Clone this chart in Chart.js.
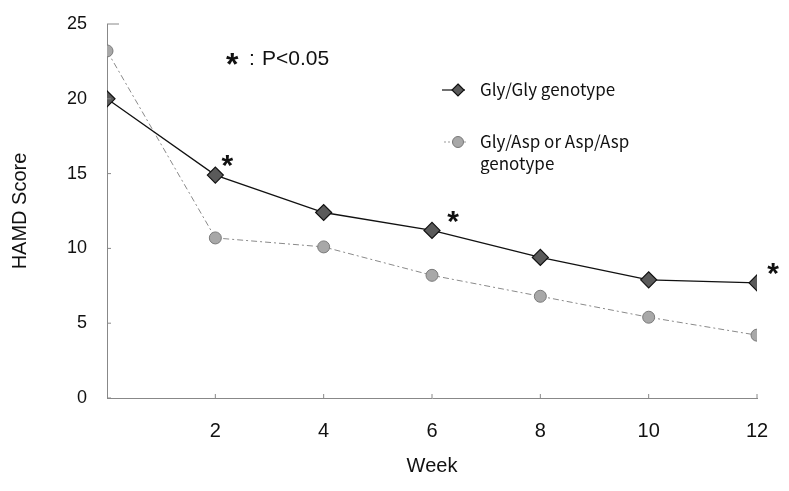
<!DOCTYPE html>
<html>
<head>
<meta charset="utf-8">
<script src="https://cdn.jsdelivr.net/npm/chart.js@4"></script>
<style>
  html, body { margin: 0; padding: 0; background: #fff; }
  #wrap { width: 789px; height: 491px; }
</style>
</head>
<body>
<div id="wrap"><canvas id="graficoHamd" width="789" height="491"></canvas></div>
<script>
// weeks and HAMD scores
var semanas = [0, 2, 4, 6, 8, 10, 12];
var glyGly = [20.0, 14.9, 12.4, 11.2, 9.4, 7.9, 7.7];
var glyAsp = [23.2, 10.7, 10.1, 8.2, 6.8, 5.4, 4.2];
var yTicks = [0, 5, 10, 15, 20, 25];
var xTicks = [2, 4, 6, 8, 10, 12];
// weeks where Gly/Gly differs significantly (asterisks)
var significativas = [2, 6, 12];
var nomesSeries = ['Gly/Gly genotype', 'Gly/Asp or Asp/Asp', 'genotype'];

function pontos(vals) {
    return semanas.map(function(s, i) { return { x: s, y: vals[i] }; });
}

function desenhaLosango(ctx, x, y, r) {
    ctx.beginPath();
    ctx.moveTo(x, y - r);
    ctx.lineTo(x + r, y);
    ctx.lineTo(x, y + r);
    ctx.lineTo(x - r, y);
    ctx.closePath();
    ctx.fillStyle = '#5a5a5a';
    ctx.fill();
    ctx.lineWidth = 1.2;
    ctx.strokeStyle = '#111';
    ctx.stroke();
}

// legend, p-value note, asterisks and small inner ticks
var extras = {
    id: 'extras',
    afterDatasetsDraw: function(chart) {
        var ctx = chart.ctx;
        var xs = chart.scales.x, ys = chart.scales.y;
        ctx.save();

        // inner tick marks
        ctx.strokeStyle = '#888';
        ctx.lineWidth = 1;
        yTicks.forEach(function(v) {
            var py = ys.getPixelForValue(v);
            ctx.beginPath();
            ctx.moveTo(xs.left, py);
            ctx.lineTo(xs.left + (v === 25 ? 12 : 4), py);
            ctx.stroke();
        });
        xTicks.forEach(function(v) {
            var px = xs.getPixelForValue(v);
            ctx.beginPath();
            ctx.moveTo(px, ys.bottom);
            ctx.lineTo(px, ys.bottom - 4);
            ctx.stroke();
        });

        // asterisks
        ctx.fillStyle = '#111';
        ctx.font = 'bold 30px "Liberation Sans", Arial, sans-serif';
        ctx.textAlign = 'center';
        ctx.textBaseline = 'middle';
        var desloc = { 2: 12, 6: 21, 12: 16 };
        significativas.forEach(function(s) {
            var i = semanas.indexOf(s);
            var px = xs.getPixelForValue(s) + desloc[s];
            var py = ys.getPixelForValue(glyGly[i]) - 8;
            ctx.fillText('*', px, py);
        });

        // p-value note
        ctx.textAlign = 'left';
        ctx.font = 'bold 32px "Liberation Sans", Arial, sans-serif';
        ctx.fillText('*', 226, 66);
        ctx.font = '21px "Liberation Sans", Arial, sans-serif';
        ctx.fillText(':', 249, 59);
        ctx.fillText('P<0.05', 262, 59);

        // legend
        ctx.strokeStyle = '#111';
        ctx.lineWidth = 1.2;
        ctx.beginPath();
        ctx.moveTo(442, 90);
        ctx.lineTo(465, 90);
        ctx.stroke();
        desenhaLosango(ctx, 458, 90, 6);

        ctx.strokeStyle = '#999';
        ctx.lineWidth = 1;
        ctx.setLineDash([2, 2]);
        ctx.beginPath();
        ctx.moveTo(444, 142);
        ctx.lineTo(466, 142);
        ctx.stroke();
        ctx.setLineDash([]);
        ctx.beginPath();
        ctx.arc(458, 142, 5.5, 0, Math.PI * 2);
        ctx.fillStyle = '#a8a8a8';
        ctx.fill();
        ctx.strokeStyle = '#777';
        ctx.stroke();

        ctx.fillStyle = '#111';
        ctx.font = '17px "Noto Sans CJK JP", "DejaVu Sans", sans-serif';
        ctx.textBaseline = 'middle';
        ctx.fillText(nomesSeries[0], 480, 90);
        ctx.fillText(nomesSeries[1], 480, 142);
        ctx.fillText(nomesSeries[2], 480, 164);
        ctx.restore();
    }
};

var config = {
    type: 'line',
    data: {
        datasets: [{
            label: 'Gly/Gly genotype',
            data: pontos(glyGly),
            borderColor: '#111',
            borderWidth: 1.3,
            pointStyle: 'rectRot',
            pointRadius: 8,
            pointBackgroundColor: '#5a5a5a',
            pointBorderColor: '#111',
            pointBorderWidth: 1.2,
            tension: 0
        }, {
            label: 'Gly/Asp or Asp/Asp genotype',
            data: pontos(glyAsp),
            borderColor: '#8a8a8a',
            borderWidth: 1,
            borderDash: [6, 3, 2, 3],
            pointStyle: 'circle',
            pointRadius: 6,
            pointBackgroundColor: '#a8a8a8',
            pointBorderColor: '#7a7a7a',
            pointBorderWidth: 1,
            tension: 0
        }]
    },
    options: {
        responsive: false,
        animation: false,
        layout: { padding: { top: 24, right: 32, left: 0, bottom: 0 } },
        plugins: {
            legend: { display: false },
            tooltip: { enabled: false }
        },
        scales: {
            x: {
                type: 'linear',
                min: 0,
                max: 12,
                afterFit: function(scale) { scale.height = 93; },
                afterBuildTicks: function(scale) {
                    scale.ticks = [0].concat(xTicks).map(function(v) { return { value: v }; });
                },
                grid: { display: false },
                border: { color: '#888', width: 1, dash: [5, 2] },
                ticks: {
                    padding: 13,
                    color: '#111',
                    font: { family: '"Liberation Sans", Arial, sans-serif', size: 20 },
                    callback: function(v) { return v === 0 ? '' : v; }
                },
                title: {
                    display: true,
                    text: 'Week',
                    color: '#111',
                    font: { family: '"Liberation Sans", Arial, sans-serif', size: 20 },
                    padding: { top: 0, bottom: 13 }
                }
            },
            y: {
                min: 0,
                max: 25,
                afterFit: function(scale) { scale.width = 107; },
                afterBuildTicks: function(scale) {
                    scale.ticks = yTicks.map(function(v) { return { value: v }; });
                },
                grid: { display: false },
                border: { color: '#888', width: 1, dash: [5, 2] },
                ticks: {
                    padding: 12,
                    color: '#111',
                    font: { family: '"Liberation Sans", Arial, sans-serif', size: 18 }
                },
                title: {
                    display: true,
                    text: 'HAMD Score',
                    color: '#111',
                    font: { family: '"Liberation Sans", Arial, sans-serif', size: 20 },
                    padding: { top: 8, bottom: 0 }
                }
            }
        }
    },
    plugins: [extras]
};

var ctx = document.getElementById('graficoHamd').getContext('2d');
new Chart(ctx, config);
</script>
</body>
</html>
